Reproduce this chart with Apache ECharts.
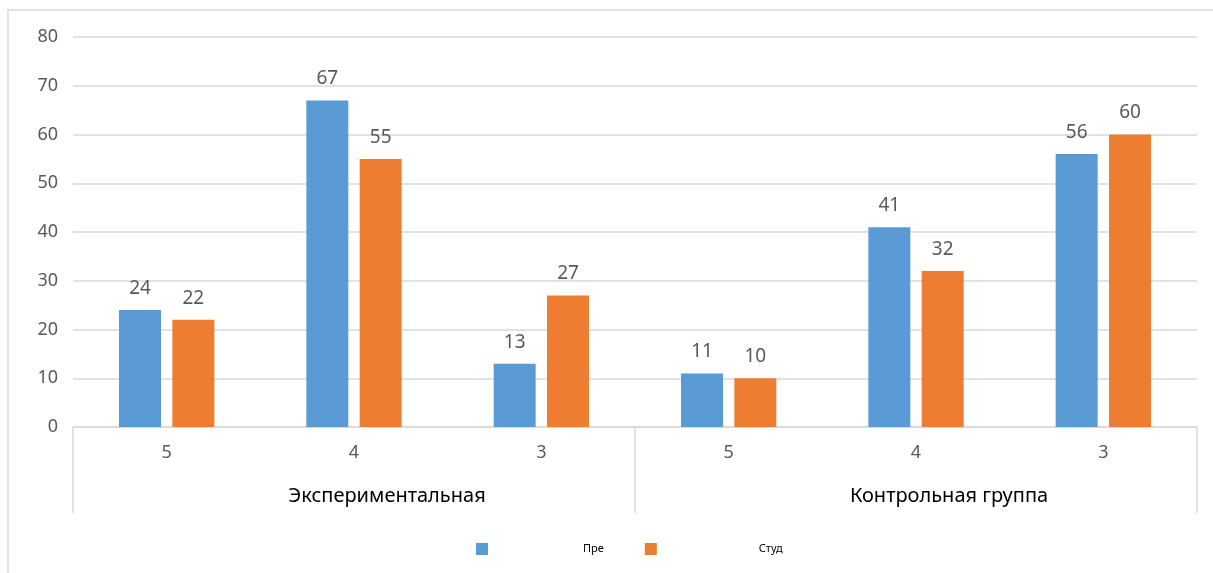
<!DOCTYPE html>
<html>
<head>
<meta charset="utf-8">
<script src="https://cdn.jsdelivr.net/npm/echarts@6/dist/echarts.min.js"></script>
<style>
    html, body { margin: 0; padding: 0; background: #fff; }
    #chart { width: 1213px; height: 573px; }
</style>
</head>
<body>
<div id="chart"></div>
<script>
// 数据
const grades = ['5', '4', '3', '5', '4', '3'];
const groups = ['Экспериментальная', 'Контрольная группа'];
const preValues = [24, 67, 13, 11, 41, 56];
const studValues = [22, 55, 27, 10, 32, 60];
const yTicks = { min: 0, max: 80, interval: 10 };

const chart = echarts.init(document.getElementById('chart'));
const font = '"Noto Sans", sans-serif';

function barSeries(name, values, color) {
    return {
        name: name,
        type: 'bar',
        data: values,
        barWidth: 42,
        barGap: '27%',
        itemStyle: { color: color },
        label: {
            show: true,
            position: 'top',
            distance: 12,
            color: '#595959',
            fontSize: 19,
            fontFamily: font
        }
    };
}

chart.setOption({
    animation: false,
    graphic: [{
        type: 'rect',
        shape: { x: 8, y: 10, width: 1300, height: 700 },
        style: { fill: 'none', stroke: '#d9d9d9', lineWidth: 1.5 },
        silent: true
    }],
    grid: { left: 73, right: 16, top: 37, bottom: 146 },
    legend: {
        left: 471,
        top: 538,
        icon: 'rect',
        itemWidth: 12,
        itemHeight: 12,
        itemGap: 41,
        textStyle: {
            fontSize: 11,
            color: '#000',
            fontFamily: font,
            padding: [0, 0, 0, 90]
        },
        data: [
            { name: 'Пре' },
            { name: 'Студ', textStyle: { padding: [0, 0, 0, 97] } }
        ]
    },
    xAxis: [{
        type: 'category',
        data: grades,
        axisLine: { lineStyle: { color: '#d9d9d9', width: 1.5 } },
        axisTick: { show: false },
        axisLabel: { color: '#595959', fontSize: 18, fontFamily: font, margin: 17 }
    }, {
        type: 'category',
        data: groups,
        position: 'bottom',
        axisLine: { show: false },
        axisTick: { show: true, length: 86, lineStyle: { color: '#d9d9d9', width: 1.5 } },
        axisLabel: {
            color: '#000',
            fontSize: 20,
            fontFamily: font,
            margin: 59,
            padding: [0, 0, 0, 66]
        }
    }],
    yAxis: {
        type: 'value',
        min: yTicks.min,
        max: yTicks.max,
        interval: yTicks.interval,
        axisLine: { show: false },
        axisTick: { show: false },
        axisLabel: { color: '#595959', fontSize: 18, fontFamily: font, margin: 15 },
        splitLine: { lineStyle: { color: '#d9d9d9', width: 1.5 } }
    },
    series: [
        barSeries('Пре', preValues, '#5b9bd5'),
        barSeries('Студ', studValues, '#ed7d31')
    ]
});
</script>
</body>
</html>
